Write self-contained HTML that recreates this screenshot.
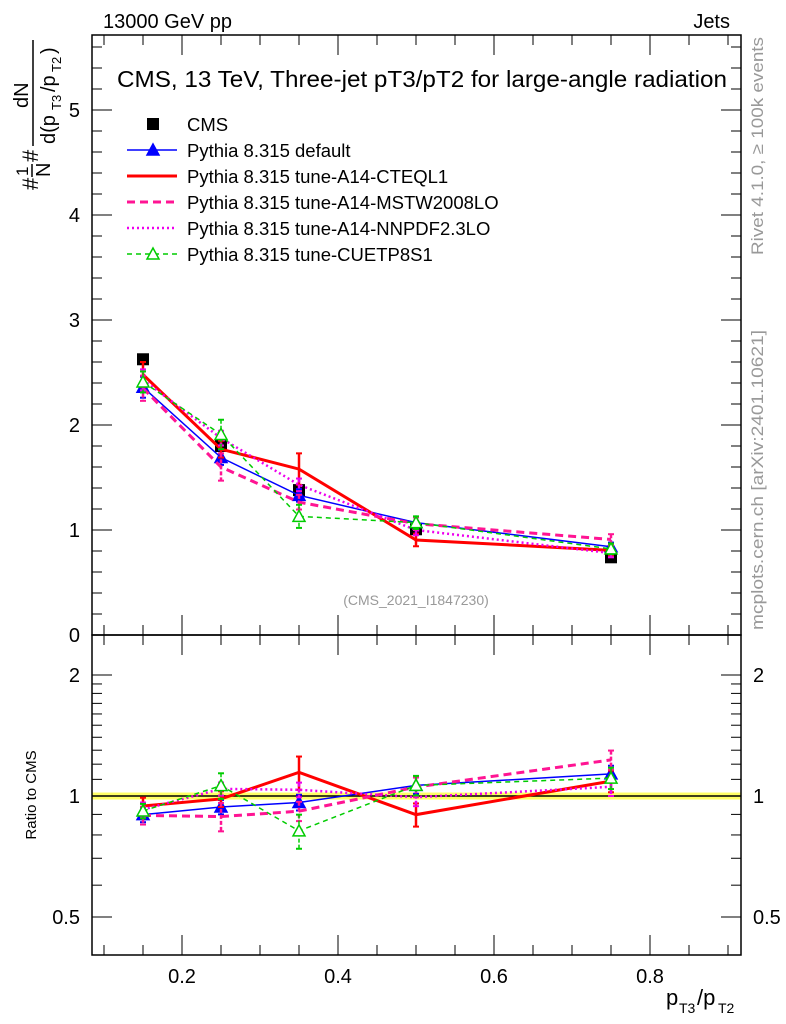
<!DOCTYPE html>
<html><head><meta charset="utf-8"><style>
body{margin:0;background:#fff;}
svg{display:block;font-family:"Liberation Sans",sans-serif;}
</style></head><body>
<svg id="chart" width="786" height="1024" viewBox="0 0 786 1024">
<g id="static">
<text x="103" y="28" font-size="20">13000 GeV pp</text>
<text x="730" y="28" font-size="20" text-anchor="end">Jets</text>
<text x="422" y="87" font-size="23" text-anchor="middle" textLength="610" lengthAdjust="spacingAndGlyphs">CMS, 13 TeV, Three-jet pT3/pT2 for large-angle radiation</text>
<text x="416" y="605" font-size="14" fill="#999" text-anchor="middle">(CMS_2021_I1847230)</text>
<text transform="translate(763,255) rotate(-90)" font-size="17" fill="#999" textLength="218" lengthAdjust="spacingAndGlyphs">Rivet 4.1.0, ≥ 100k events</text>
<text transform="translate(763,630) rotate(-90)" font-size="17" fill="#999" textLength="300" lengthAdjust="spacingAndGlyphs">mcplots.cern.ch [arXiv:2401.10621]</text>
<g transform="translate(38,190) rotate(-90)" font-size="22">
<text x="0" y="0">#</text><text x="14" y="-10" font-size="17">1</text><line x1="13" y1="-6" x2="26" y2="-6" stroke="#000" stroke-width="1.5"/><text x="13" y="12" font-size="20">N</text>
<text x="28" y="0">#</text>
<line x1="44" y1="-5" x2="150" y2="-5" stroke="#000" stroke-width="1.5"/>
<text x="82" y="-10" font-size="20">dN</text>
<text x="46" y="17" font-size="20">d(p</text><text x="80" y="23" font-size="13">T3</text><text x="98" y="17" font-size="20">/p</text><text x="118" y="23" font-size="13">T2</text><text x="136" y="17" font-size="20">)</text>
</g>
<text transform="translate(36,795) rotate(-90)" font-size="15" text-anchor="middle">Ratio to CMS</text>
<g font-size="22">
<text x="666" y="1005">p</text><text x="679" y="1013" font-size="14">T3</text><text x="697" y="1005">/p</text><text x="718" y="1013" font-size="14">T2</text>
</g>
</g>
<g id="axes"></g>
<g id="marks"></g>
<g id="legend"></g>
</svg>
<script>
const xVals=[0.15,0.25,0.35,0.5,0.75];
const cmsVals=[2.626,1.80,1.38,1.007,0.74];
const cmsErr=[0.03,0.03,0.03,0.02,0.02];
const defaultVals=[2.36,1.69,1.33,1.07,0.84];
const cteqVals=[2.48,1.77,1.58,0.905,0.806];
const mstwVals=[2.35,1.60,1.265,1.06,0.91];
const nnpdfVals=[2.43,1.875,1.43,1.0,0.78];
const cuetpVals=[2.41,1.91,1.13,1.07,0.82];
const defaultErr=[0.1,0.07,0.06,0.05,0.04];
const cteqErr=[0.12,0.08,0.15,0.06,0.05];
const mstwErr=[0.12,0.13,0.07,0.06,0.05];
const nnpdfErr=[0.1,0.07,0.06,0.05,0.04];
const cuetpErr=[0.1,0.14,0.11,0.06,0.05];
const xTicks=[0.2,0.4,0.6,0.8];
const mainYTicks=[0,1,2,3,4,5];
const ratioYTicks=[0.5,1,2];
const legendLabels=["CMS","Pythia 8.315 default","Pythia 8.315 tune-A14-CTEQL1","Pythia 8.315 tune-A14-MSTW2008LO","Pythia 8.315 tune-A14-NNPDF2.3LO","Pythia 8.315 tune-CUETP8S1"];

const NS="http://www.w3.org/2000/svg";
const L=92,R=741,T=35,MB=635,RB=955;
const X=v=>26+v*780;
const Y=v=>635-v*105;
const RY=r=>796-121*Math.log2(r);
function mk(tag,attrs,parent){const e=document.createElementNS(NS,tag);for(const k in attrs)e.setAttribute(k,attrs[k]);parent.appendChild(e);return e;}
const axes=document.getElementById('axes'),marks=document.getElementById('marks'),leg=document.getElementById('legend');

let band=mk('rect',{x:L,y:RY(1.02),width:R-L,height:RY(0.98)-RY(1.02),fill:'#ffff66'},axes);


let one=mk('line',{x1:L,x2:R,y1:RY(1),y2:RY(1),stroke:'#000','stroke-width':1.5},axes);



let f1=mk('rect',{x:L,y:T,width:R-L,height:MB-T,fill:'none',stroke:'#000','stroke-width':1.5},axes);


let f2=mk('rect',{x:L,y:MB,width:R-L,height:RB-MB,fill:'none',stroke:'#000','stroke-width':1.5},axes);



for(let v=0;v<=5.7;v+=0.2){const yy=Y(v);if(yy<T)break;const maj=Math.abs(v-Math.round(v))<1e-6;const len=maj?20:10;
 mk('line',{x1:L,x2:L+len,y1:yy,y2:yy,stroke:'#000'},axes);mk('line',{x1:R,x2:R-len,y1:yy,y2:yy,stroke:'#000'},axes);}
mainYTicks.forEach(v=>{let t=mk('text',{x:L-12,y:Y(v)+7,'font-size':20,'text-anchor':'end'},axes);t.textContent=v;
 
 });
[0.5,0.6,0.7,0.8,0.9,1,1.1,1.2,1.3,1.4,1.5,1.6,1.7,1.8,1.9,2].forEach(r=>{const yy=RY(r);const maj=ratioYTicks.includes(r);const len=maj?20:10;
 mk('line',{x1:L,x2:L+len,y1:yy,y2:yy,stroke:'#000'},axes);mk('line',{x1:R,x2:R-len,y1:yy,y2:yy,stroke:'#000'},axes);});
ratioYTicks.forEach(r=>{let t=mk('text',{x:L-12,y:RY(r)+7,'font-size':20,'text-anchor':'end'},axes);t.textContent=r;
 
 
 let t2=mk('text',{x:R+12,y:RY(r)+7,'font-size':20},axes);t2.textContent=r;
 
 });
for(let i=2;i<=18;i++){const v=i*0.05;const xx=X(v);if(xx<L||xx>R)continue;const maj=(i%4===0);const len=maj?20:10;
 [T,MB].forEach(y0=>mk('line',{x1:xx,x2:xx,y1:y0,y2:y0+len,stroke:'#000'},axes));
 [MB,RB].forEach(y0=>mk('line',{x1:xx,x2:xx,y1:y0,y2:y0-len,stroke:'#000'},axes));}
xTicks.forEach(v=>{let t=mk('text',{x:X(v),y:983,'font-size':20,'text-anchor':'middle'},axes);t.textContent=v.toFixed(1);
 
 });

const series=[
 {name:'default',vals:defaultVals,err:defaultErr,color:'#0000ff',w:1.5,dash:'',marker:'tri'},
 {name:'cteql1',vals:cteqVals,err:cteqErr,color:'#ff0000',w:3,dash:'',marker:'none'},
 {name:'mstw2008lo',vals:mstwVals,err:mstwErr,color:'#ff1493',w:3,dash:'8,5',marker:'none'},
 {name:'nnpdf23lo',vals:nnpdfVals,err:nnpdfErr,color:'#ee00ee',w:2.5,dash:'2,3',marker:'none'},
 {name:'cuetp8s1',vals:cuetpVals,err:cuetpErr,color:'#00cc00',w:1.5,dash:'5,4',marker:'otri'}];

xVals.forEach((x,i)=>{
 let s=mk('rect',{x:X(x)-6,y:Y(cmsVals[i])-6,width:12,height:12,fill:'#000'},marks);
 
 
 mk('line',{x1:X(x),x2:X(x),y1:Y(cmsVals[i]+cmsErr[i]),y2:Y(cmsVals[i]-cmsErr[i]),stroke:'#000'},marks);
});

function tri(g,cx,cy,c,fill){return mk('path',{d:`M${cx},${cy-6}L${cx+6},${cy+5}L${cx-6},${cy+5}Z`,fill:fill?c:'#fff',stroke:c,'stroke-width':1.5},g);}
series.forEach(s=>{
 const g=mk('g',{},marks);
 
 
 const ptsMain=xVals.map((x,i)=>X(x)+','+Y(s.vals[i])).join(' ');
 const ptsRatio=xVals.map((x,i)=>X(x)+','+RY(s.vals[i]/cmsVals[i])).join(' ');
 let l1=mk('polyline',{points:ptsMain,fill:'none',stroke:s.color,'stroke-width':s.w,'stroke-dasharray':s.dash},g);
 
 
 let l2=mk('polyline',{points:ptsRatio,fill:'none',stroke:s.color,'stroke-width':s.w,'stroke-dasharray':s.dash},g);
 
 
 xVals.forEach((x,i)=>{
  const v=s.vals[i],e=s.err[i],r=v/cmsVals[i],re=e/cmsVals[i];
  [[Y(v+e),Y(v-e),Y(v)],[RY(r+re),RY(r-re),RY(r)]].forEach(([a,b,c])=>{
   mk('line',{x1:X(x),x2:X(x),y1:a,y2:b,stroke:s.color,'stroke-width':Math.min(s.w,2.5),'stroke-dasharray':s.dash?'4,2':''},g);
   mk('line',{x1:X(x)-3,x2:X(x)+3,y1:a,y2:a,stroke:s.color,'stroke-width':2},g);
   mk('line',{x1:X(x)-3,x2:X(x)+3,y1:b,y2:b,stroke:s.color,'stroke-width':2},g);
   if(s.marker==='tri')tri(g,X(x),c,s.color,true);
   if(s.marker==='otri')tri(g,X(x),c,s.color,false);
  });
 });
});

legendLabels.forEach((lab,i)=>{
 const y=124+i*26;
 const g=mk('g',{},leg);
 
 
 if(i===0){mk('rect',{x:147,y:y-6,width:12,height:12,fill:'#000'},g);}
 else{const s=series[i-1];mk('line',{x1:127,x2:177,y1:y,y2:y,stroke:s.color,'stroke-width':s.w,'stroke-dasharray':s.dash},g);
  if(s.marker==='tri')tri(g,153,y,s.color,true);if(s.marker==='otri')tri(g,153,y,s.color,false);}
 const t=mk('text',{x:187,y:y+7,'font-size':18.5},g);t.textContent=lab;
});
</script>
</body></html>
